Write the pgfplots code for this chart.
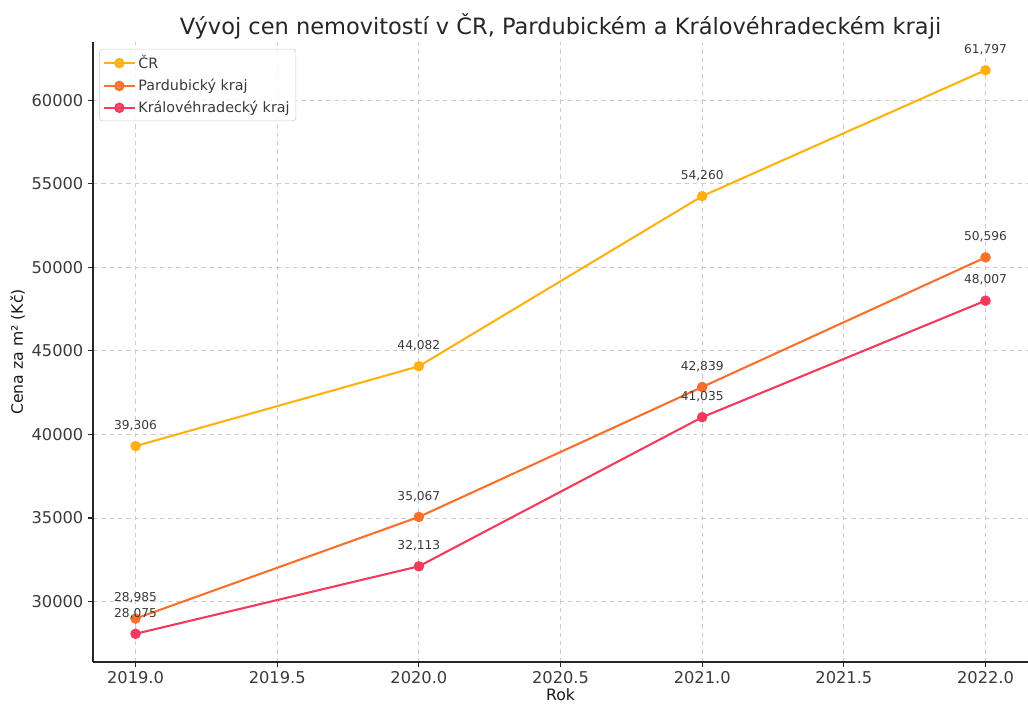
\documentclass[border=0pt]{standalone}
\usepackage{fontspec}
\setmainfont{DejaVu Sans}
\usepackage{pgfplots}
\pgfplotsset{compat=1.18}
\definecolor{cCR}{HTML}{FFB20F}
\definecolor{cPA}{HTML}{F8702A}
\definecolor{cKH}{HTML}{F23B5C}
\definecolor{txt}{HTML}{3A3A3A}
\begin{document}
\begin{tikzpicture}
\begin{axis}[
  scale only axis,
  width=673.2pt, height=446.4pt,
  xmin=2018.85, xmax=2022.15,
  ymin=26389, ymax=63483,
  axis lines=left,
  axis line style={-, line width=0.9pt, color=black!85},
  xtick={2019,2019.5,2020,2020.5,2021,2021.5,2022},
  ytick={30000,35000,40000,45000,50000,55000,60000},
  xticklabel style={/pgf/number format/.cd, fixed, fixed zerofill, precision=1, use period, set thousands separator={}, assume math mode=true},
  yticklabel style={/pgf/number format/.cd, fixed, set thousands separator={}, assume math mode=true},
  scaled ticks=false,
  ticklabel style={font=\fontsize{11.7}{14}\selectfont, text=txt},
  tick align=outside,
  major tick length=3.5pt,
  tick style={black!85, line width=0.8pt},
  grid=major,
  grid style={dashed, color=black!20, line width=0.6pt},
  xlabel={Rok},
  ylabel={Cena za m² (Kč)},
  label style={font=\fontsize{11.3}{14}\selectfont, text=black!90},
  xlabel style={inner sep=0pt, yshift=0.6pt},
  ylabel style={yshift=-2pt},
  legend style={at={(axis description cs:0,1)}, anchor=north west, xshift=4.5pt, yshift=-5pt,
    font=\fontsize{10.3}{12}\selectfont, draw=black!20, rounded corners=2pt, fill=white,
    fill opacity=0.85, text opacity=1, row sep=2pt, inner sep=2.5pt,
    text=txt},
  legend cell align=left,
  legend image code/.code={\draw[mark repeat=2,mark phase=2] plot coordinates {(0pt,0pt)(11pt,0pt)(22pt,0pt)};},
  nodes near coords,
  point meta=explicit symbolic,
  every node near coord/.append style={font=\fontsize{8.8}{10}\selectfont, text=txt, anchor=base, yshift=12pt, inner sep=0pt},
  clip=false,
]
\addplot[color=cCR, line width=1.5pt, mark=*, mark size=3pt] table[meta=label] {
x y label
2019 39306 39,306
2020 44082 44,082
2021 54260 54,260
2022 61797 61,797
};
\addlegendentry{ČR}
\addplot[color=cPA, line width=1.5pt, mark=*, mark size=3pt] table[meta=label] {
x y label
2019 28985 28,985
2020 35067 35,067
2021 42839 42,839
2022 50596 50,596
};
\addlegendentry{Pardubický kraj}
\addplot[color=cKH, line width=1.5pt, mark=*, mark size=3pt] table[meta=label] {
x y label
2019 28075 28,075
2020 32113 32,113
2021 41035 41,035
2022 48007 48,007
};
\addlegendentry{Královéhradecký kraj}
\node[font=\fontsize{16.2}{20}\selectfont, text=black!85, anchor=base, yshift=5.5pt] at (rel axis cs:0.5,1) {Vývoj cen nemovitostí v ČR, Pardubickém a Královéhradeckém kraji};
\end{axis}
\pgfresetboundingbox
\path (-67pt,-30.24pt) rectangle (673.2pt,476.64pt);
\end{tikzpicture}
\end{document}
